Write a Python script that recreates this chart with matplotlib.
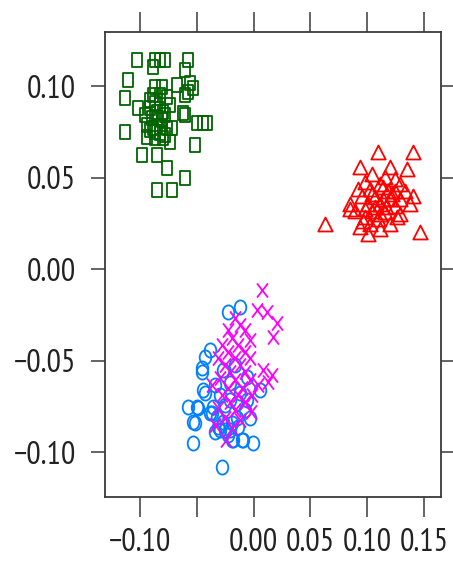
import numpy as np
import matplotlib
matplotlib.use("Agg")
import matplotlib.pyplot as plt
from matplotlib.path import Path

plt.rcParams['font.family'] = ['PT Sans Narrow', 'Liberation Sans', 'DejaVu Sans']

# ---- data ----
green_x = [-0.1026, -0.0868, -0.0824, -0.0780, -0.0578, -0.0886, -0.0604, -0.1106, -0.0868, -0.0806,
           -0.0674, -0.0560, -0.0534, -0.0578, -0.1132, -0.0886, -0.0824, -0.0762, -0.0604, -0.1018,
           -0.0912, -0.0850, -0.0798, -0.0622, -0.0498, -0.0446, -0.0410, -0.1132, -0.0938, -0.0886,
           -0.0824, -0.0762, -0.0718, -0.0938, -0.0868, -0.0798, -0.0736, -0.0604, -0.0516, -0.0982,
           -0.0850, -0.0762, -0.0604, -0.0850, -0.0718, -0.0912, -0.0868, -0.0824, -0.0894, -0.0842,
           -0.0806, -0.0868, -0.0824, -0.0780, -0.0912, -0.0780, -0.0736, -0.0956]
green_y = [0.1146, 0.1146, 0.1146, 0.1146, 0.1146, 0.1108, 0.1091, 0.1037, 0.0998, 0.0998,
           0.1009, 0.1020, 0.0993, 0.0971, 0.0938, 0.0955, 0.0955, 0.0944, 0.0955, 0.0883,
           0.0883, 0.0861, 0.0861, 0.0856, 0.0801, 0.0801, 0.0801, 0.0752, 0.0790, 0.0774,
           0.0779, 0.0774, 0.0774, 0.0725, 0.0719, 0.0719, 0.0697, 0.0845, 0.0681, 0.0626,
           0.0626, 0.0555, 0.0500, 0.0434, 0.0434, 0.0927, 0.0911, 0.0900, 0.0829, 0.0829,
           0.0818, 0.0752, 0.0746, 0.0736, 0.0763, 0.0845, 0.0900, 0.0845]

red_x = [0.1094, 0.1402, 0.0936, 0.1200, 0.1350, 0.1042, 0.1156, 0.1244, 0.0980, 0.1112,
         0.1288, 0.0918, 0.1024, 0.1182, 0.1332, 0.1402, 0.0954, 0.1068, 0.1200, 0.1288,
         0.0848, 0.1006, 0.1112, 0.1244, 0.1376, 0.0892, 0.1042, 0.1156, 0.1288, 0.0848,
         0.0980, 0.1094, 0.1262, 0.1200, 0.1024, 0.0936, 0.1006, 0.1112, 0.0628, 0.1464,
         0.1138, 0.1218, 0.1068, 0.0962, 0.1164, 0.1138, 0.1244, 0.1042, 0.1112, 0.0980]
red_y = [0.0637, 0.0637, 0.0555, 0.0555, 0.0544, 0.0516, 0.0500, 0.0489, 0.0473, 0.0462,
         0.0462, 0.0434, 0.0434, 0.0423, 0.0423, 0.0396, 0.0396, 0.0390, 0.0380, 0.0380,
         0.0352, 0.0352, 0.0352, 0.0341, 0.0352, 0.0314, 0.0314, 0.0308, 0.0297, 0.0325,
         0.0281, 0.0270, 0.0281, 0.0243, 0.0243, 0.0226, 0.0188, 0.0215, 0.0243, 0.0198,
         0.0445, 0.0407, 0.0336, 0.0259, 0.0336, 0.0380, 0.0423, 0.0407, 0.0297, 0.0325]

blue_x = [-0.0120, -0.0226, -0.0384, -0.0428, -0.0454, -0.0446, -0.0578, -0.0498, -0.0534, -0.0384,
          -0.0296, -0.0208, -0.0094, -0.0006, -0.0534, -0.0278, 0.0056, -0.0146, -0.0058, -0.0322,
          -0.0270, -0.0190, -0.0146, -0.0358, -0.0032, -0.0120, -0.0208, -0.0270, -0.0058, -0.0454,
          -0.0428, -0.0490, -0.0366, -0.0314, -0.0252, -0.0340, -0.0138, -0.0102, -0.0516, -0.0226,
          -0.0182, -0.0296, -0.0208, -0.0340, -0.0252, -0.0076, -0.0164, -0.0190]
blue_y = [-0.0206, -0.0234, -0.0442, -0.0480, -0.0540, -0.0661, -0.0754, -0.0754, -0.0836, -0.0787,
          -0.0880, -0.0880, -0.0935, -0.0951, -0.0951, -0.1083, -0.0661, -0.0732, -0.0716, -0.0809,
          -0.0836, -0.0842, -0.0814, -0.0754, -0.0814, -0.0677, -0.0622, -0.0551, -0.0590, -0.0562,
          -0.0677, -0.0760, -0.0787, -0.0864, -0.0880, -0.0891, -0.0864, -0.0935, -0.0842, -0.0907,
          -0.0935, -0.0688, -0.0716, -0.0633, -0.0743, -0.0770, -0.0524, -0.0935]

mag_x = [0.0074, 0.0030, 0.0118, 0.0206, 0.0170, 0.0082, 0.0162, 0.0126, -0.0164, -0.0120,
         -0.0226, -0.0076, -0.0190, -0.0032, -0.0278, -0.0138, -0.0226, -0.0076, -0.0314, -0.0164,
         -0.0032, -0.0252, -0.0120, -0.0208, -0.0076, -0.0296, -0.0164, -0.0032, -0.0226, -0.0102,
         -0.0278, -0.0138, -0.0208, -0.0076, -0.0314, -0.0164, -0.0252, -0.0120, -0.0340, -0.0190,
         -0.0014, 0.0038, -0.0366, -0.0026, -0.0243]
mag_y = [-0.0113, -0.0223, -0.0234, -0.0294, -0.0371, -0.0551, -0.0578, -0.0617, -0.0267, -0.0305,
         -0.0333, -0.0333, -0.0376, -0.0387, -0.0415, -0.0415, -0.0453, -0.0453, -0.0486, -0.0486,
         -0.0486, -0.0524, -0.0524, -0.0562, -0.0562, -0.0595, -0.0606, -0.0606, -0.0650, -0.0650,
         -0.0688, -0.0688, -0.0727, -0.0727, -0.0760, -0.0770, -0.0814, -0.0825, -0.0853, -0.0869,
         -0.0688, -0.0633, -0.0633, -0.0781, -0.0935]

xticks = [-0.10, -0.05, 0.00, 0.05, 0.10, 0.15]
xticklabels = ['\u22120.10', '', '0.00', '0.05', '0.10', '0.15']
yticks = [-0.10, -0.05, 0.00, 0.05, 0.10]
yticklabels = ['\u22120.10', '\u22120.05', '0.00', '0.05', '0.10']

# ---- stretched marker shapes (reference is taller than wide) ----
ax_w = 0.77
sq = Path([(-ax_w, -1), (ax_w, -1), (ax_w, 1), (-ax_w, 1), (-ax_w, -1)],
          [Path.MOVETO, Path.LINETO, Path.LINETO, Path.LINETO, Path.CLOSEPOLY])
uc = Path.unit_circle()
circ = Path(uc.vertices * np.array([0.82, 1.0]), uc.codes)
tri = Path([(-0.9, -0.75), (0.9, -0.75), (0.0, 1.0), (-0.9, -0.75)],
           [Path.MOVETO, Path.LINETO, Path.LINETO, Path.CLOSEPOLY])
xm = Path([(-ax_w, -1), (ax_w, 1), (-ax_w, 1), (ax_w, -1)],
          [Path.MOVETO, Path.LINETO, Path.MOVETO, Path.LINETO])

fig = plt.figure(figsize=(4.53, 5.70), dpi=100)
ax = fig.add_axes([105/453, 1-497/570, (441-105)/453, (497-32)/570])

mk = dict(linestyle='none', mfc='none', mew=1.3)
ax.plot(blue_x, blue_y, marker=circ, ms=10.2, mec='#0080ff', **mk)
ax.plot(mag_x, mag_y, marker=xm, ms=10.2, mec='#ff00ff', **mk)
ax.plot(green_x, green_y, marker=sq, ms=10.2, mec='#006400', **mk)
ax.plot(red_x, red_y, marker=tri, ms=11.5, mec='#ff0000', **mk)

ax.set_xlim(-0.1308, 0.165)
ax.set_ylim(-0.1246, 0.1298)
ax.set_xticks(xticks)
ax.set_xticklabels(xticklabels)
ax.set_yticks(yticks)
ax.set_yticklabels(yticklabels)

edge = '#3a3a3a'
for s in ax.spines.values():
    s.set_color(edge)
    s.set_linewidth(1.3)
ax.tick_params(axis='x', which='both', direction='out', length=14.5, width=1.1,
               color=edge, labelsize=23, pad=8, top=True, labeltop=False)
ax.tick_params(axis='y', which='both', direction='out', length=10, width=1.1,
               color=edge, labelsize=23, pad=11, right=True, labelright=False)
for lab in ax.get_xticklabels() + ax.get_yticklabels():
    lab.set_color('#222222')

fig.savefig('out.png', dpi=100)
